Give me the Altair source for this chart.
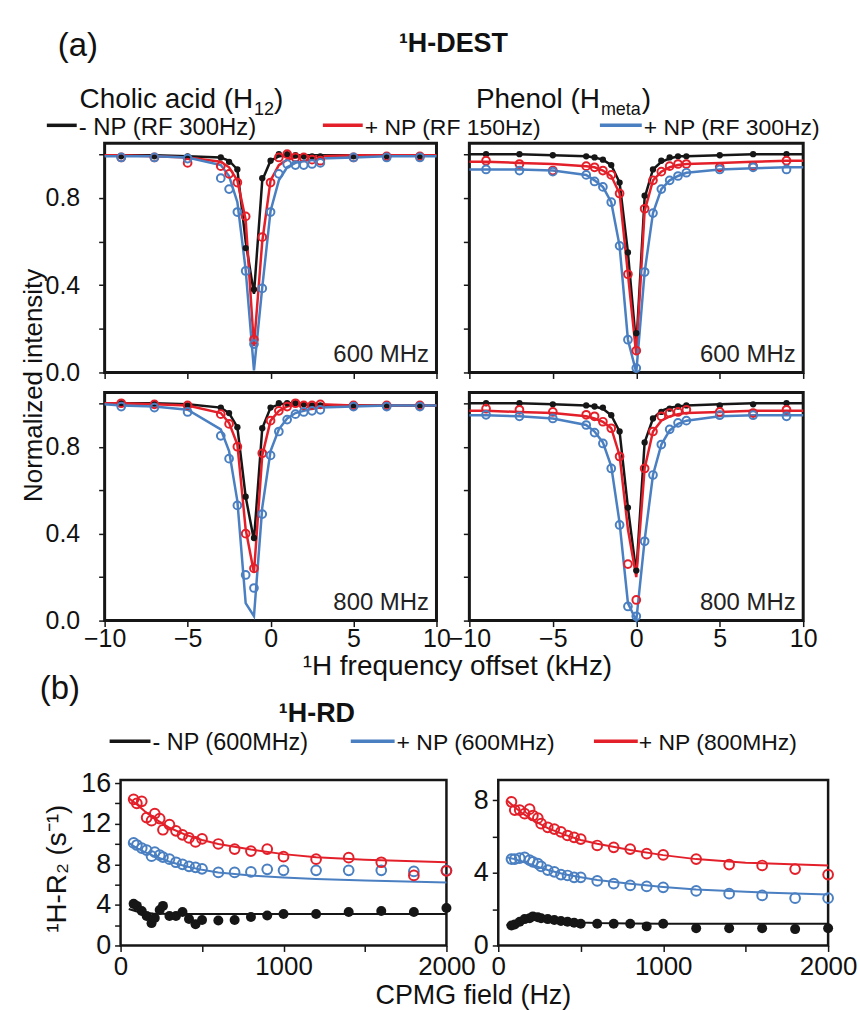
import altair as alt
import pandas as pd

BLACK = "#161616"
RED = "#e3202a"
BLUE = "#4a7fc1"
FONT = "Liberation Sans, Arial, sans-serif"

# ---------------- 1H-DEST data ----------------
dest_offsets = [-9, -7, -5, -3, -2.5, -2, -1.5, -1, -0.5, 0, 0.5, 1, 1.5, 2, 2.5, 3, 5, 7, 9]
dest_fit_offsets = [-10, -9, -7, -5, -3, -2.5, -2, -1.5, -1, -0.5, 0, 0.5, 1, 1.5, 2, 2.5, 3, 5, 7, 9, 10]
dest_series = ["- NP (RF 300Hz)", "+ NP (RF 150Hz)", "+ NP (RF 300Hz)"]

# Cholic acid (H12), 600 MHz
cho600_black = [0.99, 0.99, 0.99, 0.985, 0.965, 0.93, 0.57, 0.38, 0.89, 0.97, 1.0, 1.0, 0.995, 0.99, 0.99, 0.99, 0.99, 0.99, 0.99]
cho600_red = [0.985, 0.985, 0.96, 0.945, 0.91, 0.87, 0.715, 0.15, 0.62, 0.87, 0.985, 1.0, 0.985, 0.985, 0.975, 0.97, 0.985, 0.99, 0.99]
cho600_blue = [0.985, 0.985, 0.98, 0.89, 0.84, 0.735, 0.465, 0.13, 0.385, 0.735, 0.91, 0.955, 0.95, 0.95, 0.955, 0.96, 0.985, 0.985, 0.985]
cho600_fit_black = [0.995, 0.995, 0.995, 0.99, 0.985, 0.97, 0.93, 0.6, 0.36, 0.88, 0.97, 0.99, 0.995, 0.995, 0.995, 0.995, 0.995, 0.995, 0.995, 0.995, 0.995]
cho600_fit_red = [0.995, 0.995, 0.99, 0.985, 0.965, 0.94, 0.88, 0.70, 0.12, 0.6, 0.88, 0.95, 0.975, 0.985, 0.99, 0.99, 0.99, 0.995, 0.995, 0.995, 0.995]
cho600_fit_blue = [0.99, 0.99, 0.99, 0.985, 0.95, 0.9, 0.78, 0.47, 0.01, 0.39, 0.74, 0.88, 0.94, 0.96, 0.97, 0.975, 0.98, 0.985, 0.99, 0.99, 0.99]

# Phenol (Hmeta), 600 MHz
phe600_black = [1.0, 1.0, 0.995, 0.99, 0.985, 0.975, 0.95, 0.87, 0.55, 0.18, 0.81, 0.93, 0.97, 0.985, 0.99, 0.99, 0.995, 1.0, 1.0]
phe600_red = [0.97, 0.955, 0.925, 0.945, 0.94, 0.925, 0.905, 0.82, 0.45, 0.10, 0.75, 0.88, 0.92, 0.945, 0.955, 0.955, 0.94, 0.945, 0.97]
phe600_blue = [0.93, 0.925, 0.92, 0.905, 0.875, 0.85, 0.78, 0.58, 0.15, 0.02, 0.46, 0.73, 0.84, 0.88, 0.90, 0.915, 0.93, 0.94, 0.93]
phe600_fit_black = [1.0, 1.0, 1.0, 0.995, 0.99, 0.985, 0.975, 0.95, 0.87, 0.55, 0.12, 0.80, 0.93, 0.965, 0.98, 0.99, 0.99, 0.995, 1.0, 1.0, 1.0]
phe600_fit_red = [0.965, 0.965, 0.96, 0.955, 0.945, 0.94, 0.925, 0.9, 0.82, 0.45, 0.08, 0.74, 0.88, 0.92, 0.94, 0.95, 0.955, 0.96, 0.965, 0.97, 0.97]
phe600_fit_blue = [0.93, 0.93, 0.93, 0.925, 0.905, 0.88, 0.85, 0.78, 0.58, 0.15, 0.0, 0.46, 0.73, 0.84, 0.88, 0.9, 0.915, 0.93, 0.935, 0.94, 0.94]

# Cholic acid (H12), 800 MHz
cho800_black = [1.0, 1.0, 0.99, 0.98, 0.955, 0.89, 0.57, 0.38, 0.885, 0.98, 1.0, 1.0, 1.0, 0.995, 0.99, 0.99, 0.99, 0.99, 0.99]
cho800_red = [1.0, 0.995, 0.99, 0.95, 0.905, 0.80, 0.40, 0.24, 0.77, 0.92, 0.965, 0.985, 1.0, 0.99, 0.99, 0.995, 0.99, 0.99, 0.99]
cho800_blue = [0.985, 0.98, 0.96, 0.85, 0.745, 0.53, 0.21, 0.15, 0.49, 0.76, 0.87, 0.925, 0.95, 0.96, 0.965, 0.97, 0.985, 0.985, 0.985]
cho800_fit_black = [1.0, 1.0, 1.0, 0.995, 0.98, 0.955, 0.89, 0.57, 0.37, 0.885, 0.98, 0.995, 1.0, 1.0, 0.995, 0.99, 0.99, 0.99, 0.99, 0.99, 0.99]
cho800_fit_red = [1.0, 1.0, 0.995, 0.99, 0.955, 0.91, 0.81, 0.42, 0.22, 0.76, 0.92, 0.965, 0.985, 0.995, 0.995, 0.995, 0.995, 0.99, 0.99, 0.99, 0.99]
cho800_fit_blue = [0.995, 0.99, 0.985, 0.97, 0.88, 0.78, 0.55, 0.08, 0.02, 0.52, 0.78, 0.88, 0.93, 0.955, 0.965, 0.975, 0.98, 0.985, 0.99, 0.99, 0.99]

# Phenol (Hmeta), 800 MHz
phe800_black = [1.0, 1.0, 0.995, 0.99, 0.985, 0.98, 0.945, 0.87, 0.52, 0.23, 0.82, 0.93, 0.96, 0.975, 0.985, 0.99, 0.99, 0.995, 1.0]
phe800_red = [0.975, 0.97, 0.96, 0.947, 0.94, 0.915, 0.885, 0.755, 0.26, 0.095, 0.70, 0.87, 0.94, 0.955, 0.96, 0.97, 0.96, 0.955, 0.97]
phe800_blue = [0.947, 0.94, 0.93, 0.90, 0.865, 0.815, 0.70, 0.44, 0.065, 0.02, 0.365, 0.67, 0.81, 0.88, 0.91, 0.92, 0.945, 0.945, 0.94]
phe800_fit_black = [1.0, 1.0, 1.0, 0.995, 0.99, 0.985, 0.975, 0.945, 0.87, 0.52, 0.22, 0.82, 0.93, 0.965, 0.98, 0.985, 0.99, 0.995, 1.0, 1.0, 1.0]
phe800_fit_red = [0.965, 0.965, 0.96, 0.955, 0.94, 0.93, 0.915, 0.885, 0.76, 0.42, 0.2, 0.70, 0.87, 0.92, 0.94, 0.95, 0.955, 0.96, 0.965, 0.965, 0.965]
phe800_fit_blue = [0.945, 0.945, 0.94, 0.93, 0.9, 0.87, 0.82, 0.71, 0.45, 0.08, 0.0, 0.37, 0.67, 0.81, 0.875, 0.905, 0.92, 0.94, 0.945, 0.945, 0.945]

# ---------------- 1H-RD data ----------------
rd_series = ["- NP (600MHz)", "+ NP (600MHz)", "+ NP (800MHz)"]
cpmg = [80, 100, 130, 160, 190, 210, 240, 260, 300, 340, 380, 420, 460, 500, 600, 700, 800, 900, 1000, 1200, 1400, 1600, 1800, 2000]
cpmg_fit = [50, 100, 150, 200, 300, 400, 500, 600, 800, 1000, 1200, 1500, 2000]

rdL_black = [4.1, 3.9, 3.4, 2.9, 2.2, 2.7, 3.5, 3.9, 2.9, 2.9, 3.3, 2.6, 2.1, 2.5, 2.45, 2.5, 2.8, 2.95, 3.1, 3.1, 3.3, 3.4, 3.3, 3.7]
rdL_blue = [10.1, 9.9, 9.6, 9.4, 8.8, 9.2, 8.9, 8.7, 8.5, 8.2, 8.0, 7.8, 7.7, 7.55, 7.2, 7.2, 7.25, 7.5, 7.4, 7.4, 7.4, 7.4, 7.3, 7.4]
rdL_red = [14.4, 14.0, 14.2, 12.6, 12.3, 13.0, 12.5, 11.4, 11.9, 11.3, 10.9, 10.6, 10.2, 10.5, 10.0, 9.5, 9.3, 9.5, 8.75, 8.5, 8.65, 8.2, 6.9, 7.35]
rdL_fit_black = [3.6, 3.35, 3.2, 3.15, 3.1, 3.1, 3.1, 3.1, 3.1, 3.1, 3.1, 3.1, 3.1]
rdL_fit_blue = [10.1, 9.6, 9.2, 8.85, 8.25, 7.8, 7.45, 7.2, 6.9, 6.7, 6.55, 6.4, 6.2]
rdL_fit_red = [14.5, 13.9, 13.2, 12.6, 11.6, 10.9, 10.4, 10.0, 9.45, 9.0, 8.7, 8.45, 8.2]

rdR_black = [1.1, 1.15, 1.3, 1.45, 1.5, 1.6, 1.55, 1.5, 1.45, 1.4, 1.35, 1.3, 1.25, 1.2, 1.2, 1.2, 1.2, 1.05, 1.2, 0.95, 0.95, 0.95, 0.9, 0.95]
rdR_blue = [4.75, 4.75, 4.8, 4.85, 4.7, 4.6, 4.5, 4.35, 4.15, 4.05, 3.9, 3.85, 3.75, 3.75, 3.55, 3.4, 3.3, 3.25, 3.2, 3.0, 2.85, 2.75, 2.6, 2.6]
rdR_red = [7.9, 7.45, 7.45, 7.25, 7.5, 7.15, 7.0, 6.7, 6.5, 6.4, 6.25, 6.05, 5.95, 5.85, 5.5, 5.4, 5.3, 5.05, 4.98, 4.75, 4.45, 4.4, 4.2, 3.9]
rdR_fit_black = [1.1, 1.3, 1.45, 1.5, 1.42, 1.32, 1.26, 1.23, 1.21, 1.2, 1.2, 1.2, 1.2]
rdR_fit_blue = [4.85, 4.75, 4.6, 4.45, 4.15, 3.92, 3.75, 3.6, 3.4, 3.22, 3.08, 2.95, 2.8]
rdR_fit_red = [8.0, 7.6, 7.25, 6.95, 6.45, 6.1, 5.8, 5.6, 5.25, 4.97, 4.75, 4.55, 4.4]

one = pd.DataFrame({"a": [0]})


def long(xs, series_values):
    rows = []
    for name, vals in series_values:
        for x, v in zip(xs, vals):
            rows.append({"x": x, "y": v, "s": name})
    return pd.DataFrame(rows)


def panel(xs, marks, fit_xs, fits, series, colors, xdom, ydom, xrange, xaxis, yaxis,
          label=None, label_at=None, msize_open=60, msize_fill=40, lw=2.5, frame_w=3):
    color = alt.Color("s:N", scale=alt.Scale(domain=series, range=colors), legend=None)
    X = alt.X("x:Q", scale=alt.Scale(domain=xdom, range=xrange, nice=False, zero=False), axis=xaxis)
    Y = alt.Y("y:Q", scale=alt.Scale(domain=ydom, nice=False, zero=False), axis=yaxis)
    frame_df = pd.DataFrame({"x": [xdom[0]], "xe": [xdom[1]], "y": [ydom[0]], "ye": [ydom[1]]})
    frame = alt.Chart(frame_df).mark_rect(filled=False, color=BLACK, strokeWidth=frame_w).encode(
        x=X, x2=alt.X2("xe"), y=Y, y2=alt.Y2("ye"))
    fit_df = long(fit_xs, fits)
    mk_df = long(xs, marks)
    filled_df = mk_df[mk_df["s"] == series[0]]
    open_df = mk_df[mk_df["s"] != series[0]]
    lines = alt.Chart(fit_df).mark_line(strokeWidth=lw).encode(x=X, y=Y, color=color)
    filled = alt.Chart(filled_df).mark_point(filled=True, shape="circle", size=msize_fill, opacity=1).encode(
        x=X, y=Y, color=color)
    opened = alt.Chart(open_df).mark_point(filled=False, shape="circle", size=msize_open, strokeWidth=2,
                                           opacity=1).encode(x=X, y=Y, color=color)
    layers = [frame, lines, filled, opened]
    if label:
        lab_df = pd.DataFrame({"x": [label_at[0]], "y": [label_at[1]], "t": [label]})
        layers.append(alt.Chart(lab_df).mark_text(align="right", baseline="middle", fontSize=24, font=FONT,
                                                  color="#222").encode(x=X, y=Y, text="t:N"))
    return alt.layer(*layers)


def dest_xaxis(labels):
    return alt.Axis(values=[-10, -5, 0, 5, 10], labels=labels, title=None, labelFontSize=25, orient="bottom",
                    labelPadding=0, tickSize=6, labelFlush=False)


def dest_yaxis(labels, off):
    return alt.Axis(values=[0, 0.2, 0.4, 0.6, 0.8, 1.0], labels=labels, title=None, labelFontSize=25,
                    labelPadding=19, tickSize=6, orient="left", offset=off,
                    labelExpr="(round(datum.value*10)%4==0) ? format(datum.value,'.1f') : ''")


dcol = [BLACK, RED, BLUE]
DL_RANGE = [102, 435]
DR_RANGE = [468, 803]


def dest_row(lvals, lfits, rvals, rfits, label, with_xlabels, h):
    left = panel(dest_offsets, list(zip(dest_series, lvals)), dest_fit_offsets, list(zip(dest_series, lfits)),
                 dest_series, dcol, [-10, 10], [0, 1.05], DL_RANGE, dest_xaxis(with_xlabels),
                 dest_yaxis(True, -DL_RANGE[0]), label, (9.55, 0.08))
    right = panel(dest_offsets, list(zip(dest_series, rvals)), dest_fit_offsets, list(zip(dest_series, rfits)),
                  dest_series, dcol, [-10, 10], [0, 1.05], DR_RANGE, dest_xaxis(with_xlabels),
                  dest_yaxis(False, -DR_RANGE[0]), label, (9.55, 0.08))
    return alt.layer(left, right).resolve_scale(x="independent", y="independent").properties(width=860, height=h)


row600 = dest_row([cho600_black, cho600_red, cho600_blue], [cho600_fit_black, cho600_fit_red, cho600_fit_blue],
                  [phe600_black, phe600_red, phe600_blue], [phe600_fit_black, phe600_fit_red, phe600_fit_blue],
                  "600 MHz", False, 230)
row800 = dest_row([cho800_black, cho800_red, cho800_blue], [cho800_fit_black, cho800_fit_red, cho800_fit_blue],
                  [phe800_black, phe800_red, phe800_blue], [phe800_fit_black, phe800_fit_red, phe800_fit_blue],
                  "800 MHz", True, 229)

rcol = [BLACK, BLUE, RED]
RL_RANGE = [118, 445]
RR_RANGE = [497, 828]


def rd_xaxis():
    return alt.Axis(values=[0, 500, 1000, 1500, 2000], format="d", title=None, labelFontSize=26, orient="bottom",
                    labelPadding=2, tickSize=6, labelFlush=False,
                    labelExpr="datum.value % 1000 == 0 ? datum.label : ''")


def rd_yaxis(vals, off):
    return alt.Axis(values=vals, format="d", title=None, labelFontSize=27, labelPadding=4, tickSize=6,
                    orient="left", offset=off, labelExpr="datum.value % 4 == 0 ? datum.label : ''")


RL = panel(cpmg, list(zip(rd_series, [rdL_black, rdL_blue, rdL_red])),
           cpmg_fit, list(zip(rd_series, [rdL_fit_black, rdL_fit_blue, rdL_fit_red])),
           rd_series, rcol, [0, 2000], [0, 16.3], RL_RANGE, rd_xaxis(),
           rd_yaxis([0, 2, 4, 6, 8, 10, 12, 14, 16], -RL_RANGE[0]),
           msize_open=95, msize_fill=100, lw=2, frame_w=2.5)
RR = panel(cpmg, list(zip(rd_series, [rdR_black, rdR_blue, rdR_red])),
           cpmg_fit, list(zip(rd_series, [rdR_fit_black, rdR_fit_blue, rdR_fit_red])),
           rd_series, rcol, [0, 2000], [0, 9.1], RR_RANGE, rd_xaxis(),
           rd_yaxis([0, 2, 4, 6, 8], -RR_RANGE[0]),
           msize_open=95, msize_fill=100, lw=2, frame_w=2.5)
row_rd = alt.layer(RL, RR).resolve_scale(x="independent", y="independent").properties(width=860, height=166)


# ---------------- annotations ----------------
def txt(s, x, y, size, weight="normal", align="left", baseline="alphabetic", angle=0, color="#111"):
    props = dict(align=align, baseline=baseline, fontSize=size, font=FONT, fontWeight=weight, color=color)
    if angle:
        props["angle"] = angle
    return alt.Chart(one).mark_text(**props).encode(x=alt.value(x), y=alt.value(y), text=alt.value(s))


def seg(x1, x2, y, color):
    return alt.Chart(one).mark_rule(strokeWidth=3.5, color=color).encode(
        x=alt.value(x1), x2=alt.value(x2), y=alt.value(y))


annots = [
    txt("(a)", 55, 54, 33),
    txt("\u00b9H-DEST", 452, 50, 27, weight="bold", align="center"),
    txt("Cholic acid (H", 251, 107, 28, align="right"),
    txt("12", 252, 114, 18),
    txt(")", 272, 107, 28),
    txt("Phenol (H", 599, 107, 28, align="right"),
    txt("meta", 600, 114, 18),
    txt(")", 641, 107, 28),
    seg(44, 74, 124, BLACK), txt("- NP (RF 300Hz)", 76, 134, 24),
    seg(321, 361, 124, RED), txt("+ NP (RF 150Hz)", 363, 134, 23),
    seg(599, 641, 124, BLUE), txt("+ NP (RF 300Hz)", 643, 134, 23),
    txt("Normalized intensity", 31, 385, 26, align="center", baseline="middle", angle=270),
    txt("\u00b9H frequency offset  (kHz)", 456, 676, 28, align="center"),
    txt("(b)", 37, 700, 33),
    txt("\u00b9H-RD", 315, 723, 27, weight="bold", align="center"),
    seg(107, 148, 742, BLACK), txt("- NP (600MHz)", 150, 751, 23.5),
    seg(349, 393, 742, BLUE), txt("+ NP (600MHz)", 395, 751, 23),
    seg(593, 637, 742, RED), txt("+ NP (800MHz)", 638, 751, 23),
    txt("\u00b9H-R\u2082 (s\u207b\u00b9)", 55, 870, 28, align="center", baseline="middle", angle=270),
    txt("CPMG field (Hz)", 472, 1006, 27, align="center"),
]
annot = alt.layer(*annots).properties(width=1, height=142)


def spacer(w, h):
    return alt.Chart(one).mark_point(opacity=0).encode(x=alt.value(0), y=alt.value(0)).properties(width=w, height=h)


chart = alt.concat(annot, row600, spacer(1, 20), row800, spacer(1, 160), row_rd,
                   columns=1, spacing=0, bounds="flush", align="each").resolve_scale(
    color="independent"
).properties(
    padding=0
).configure_view(stroke=None).configure_axis(
    labelFont=FONT, labelColor="#111", tickColor=BLACK, tickWidth=1.5, domain=False, grid=False
)

chart.save("out.html", embed_options={"renderer": "svg", "actions": False})
